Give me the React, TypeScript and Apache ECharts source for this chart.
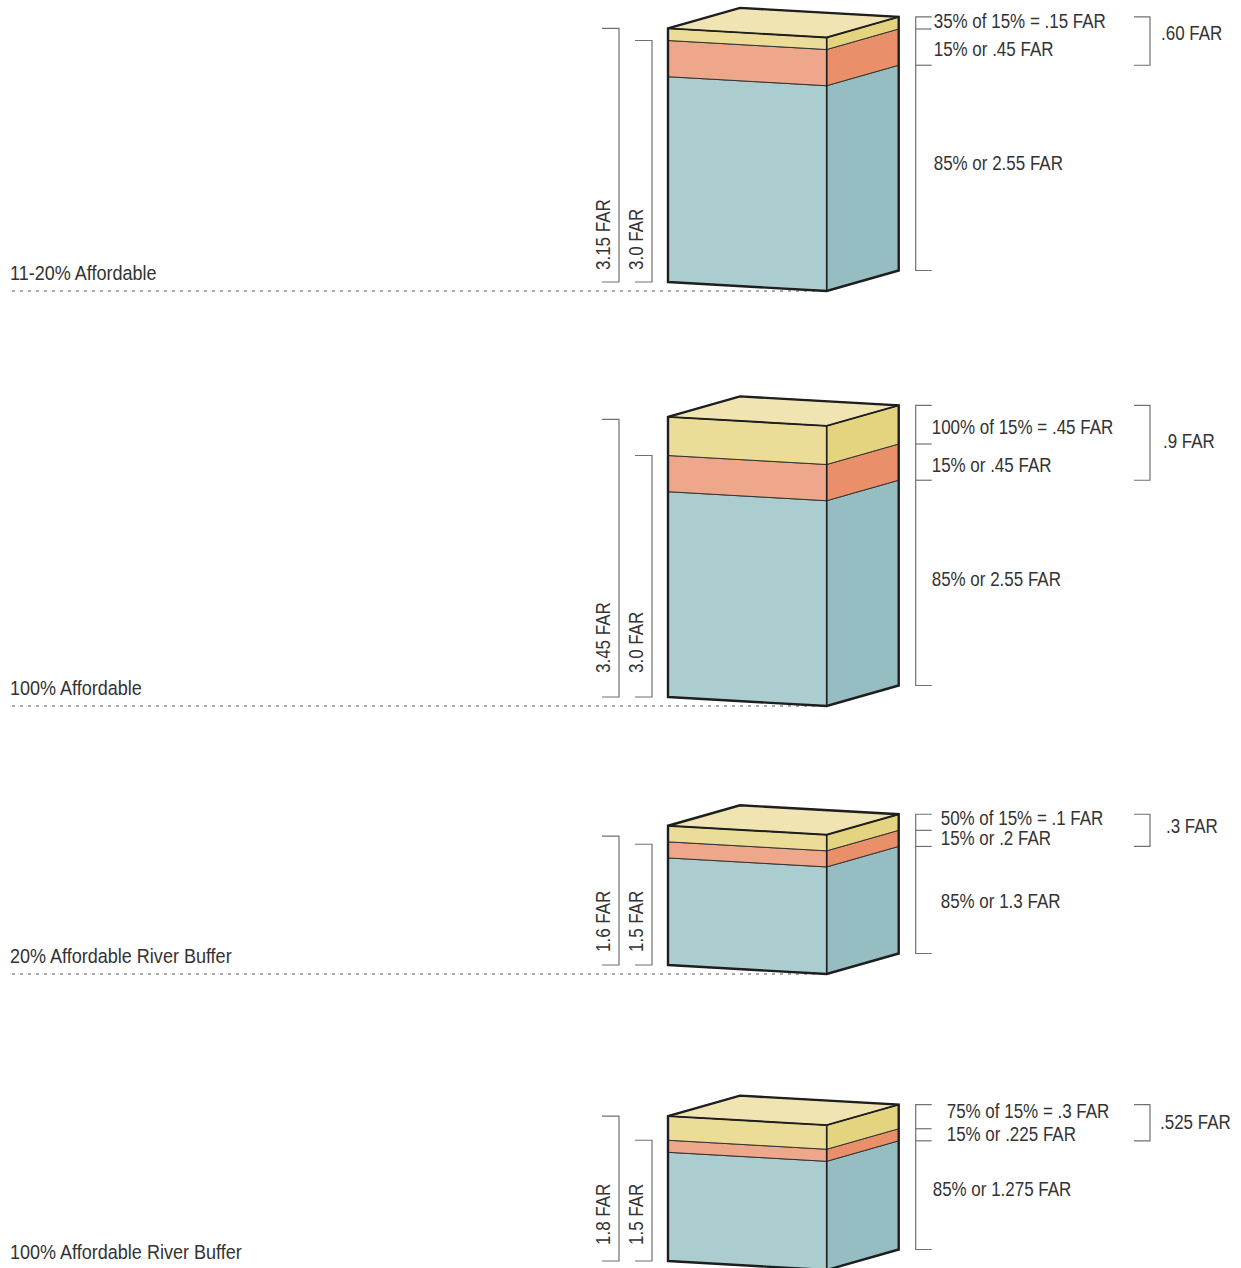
import React, { useEffect, useRef } from "react";
import * as echarts from "echarts";

// ---------- data ----------
const CATEGORIES = [
  "11-20% Affordable",
  "100% Affordable",
  "20% Affordable River Buffer",
  "100% Affordable River Buffer",
];
// drawn layer heights (FAR)
const BASE_FAR = [2.55, 2.55, 1.33, 1.35]; // 85% base (teal)
const BONUS_FAR = [0.45, 0.45, 0.2, 0.15]; // 15% bonus (orange)
const AFFORD_FAR = [0.15, 0.48, 0.2, 0.3]; // affordable bonus (yellow)
const TOTAL_FAR = [3.15, 3.45, 1.6, 1.8];
const BASE_TOTAL_FAR = [3.0, 3.0, 1.5, 1.5];

const TOTAL_LABELS = ["3.15 FAR", "3.45 FAR", "1.6 FAR", "1.8 FAR"];
const BASE_TOTAL_LABELS = ["3.0 FAR", "3.0 FAR", "1.5 FAR", "1.5 FAR"];
const AFFORD_LABELS = [
  "35% of 15% = .15 FAR",
  "100% of 15% = .45 FAR",
  "50% of 15% = .1 FAR",
  "75% of 15% = .3 FAR",
];
const BONUS_LABELS = ["15% or .45 FAR", "15% or .45 FAR", "15% or .2 FAR", "15% or .225 FAR"];
const BASE_LABELS = ["85% or 2.55 FAR", "85% or 2.55 FAR", "85% or 1.3 FAR", "85% or 1.275 FAR"];
const BONUS_SUM_LABELS = [".60 FAR", ".9 FAR", ".3 FAR", ".525 FAR"];

// ---------- layout ----------
const BASELINE_Y = [282, 697, 965, 1261];
const Y_MAX = 3.5;
const GRID_H = Y_MAX * 80.5;
const FRONT_LEFT = 668;
const FRONT_W = 158.7;
const SKEW = 9;
const DX = 72;
const DY = -20.5;
const LABEL_LIFT = [12, 24, 13, 16];
const TOP_LABEL_SHIFT = [0, -2, 7, 13];
const BASE_LABEL_SHIFT = [0, -2, 7, -1];
const AFFORD_DY = [-1, 3, -4, -5];
const BONUS_DY = [3, 4, 0, 0];
const BASE_DY = [-4, -3, 2, -6];
const SUM_DY = [-7, -1, -4, 0];
const SUM_DX = [11, 13, 16, 10];

const FONT = "'Liberation Sans', Arial, sans-serif";
const TEXT_COLOR = "#333";
const EDGE = "#1e1e1e";
const BRACKET = "#707070";

const FRONT_COLORS = ["#abcdd0", "#eea78a", "#ebdc98"];
const SIDE_COLORS = ["#96bec2", "#e98f69", "#e5d47f"];
const TOP_COLOR = "#f0e4b3";

const txt = (text: string, x: number, y: number, opts: any = {}) => ({
  type: "text",
  x,
  y,
  rotation: opts.rotation || 0,
  scaleX: 0.88,
  style: {
    text,
    fill: TEXT_COLOR,
    fontSize: opts.fontSize || 19.3,
    fontFamily: FONT,
    align: opts.align || "left",
    verticalAlign: "middle",
  },
});

const renderBox = (params: any, api: any) => {
  const i = params.seriesIndex;
  const teal = api.value(0);
  const orange = api.value(1);
  const yellow = api.value(2);
  const total = api.value(3);
  const baseTotal = api.value(4);
  const lv = [0, teal, teal + orange, teal + orange + yellow];
  const L = (v: number) => api.coord([0, v]);
  const R = (v: number) => {
    const p = api.coord([1, v]);
    return [p[0], p[1] + SKEW];
  };
  const B = (p: number[]) => [p[0] + DX, p[1] + DY];
  const children: any[] = [];
  const L0 = L(0);
  const R0 = R(0);

  // dotted ground line
  children.push({
    type: "line",
    shape: { x1: 12, y1: R0[1], x2: R0[0], y2: R0[1] },
    style: { stroke: "#555", lineWidth: 1, lineDash: [3, 5] },
  });
  // category label
  children.push(txt(CATEGORIES[i], 10, L0[1] - 9, { fontSize: 20.5 }));

  // layers
  for (let k = 0; k < 3; k++) {
    const a = lv[k];
    const b = lv[k + 1];
    children.push({
      type: "polygon",
      shape: { points: [L(a), R(a), R(b), L(b)] },
      style: { fill: FRONT_COLORS[k], stroke: "#333", lineWidth: 1 },
    });
    children.push({
      type: "polygon",
      shape: { points: [R(a), B(R(a)), B(R(b)), R(b)] },
      style: { fill: SIDE_COLORS[k], stroke: "#333", lineWidth: 1 },
    });
  }
  const Lt = L(lv[3]);
  const Rt = R(lv[3]);
  children.push({
    type: "polygon",
    shape: { points: [Lt, Rt, B(Rt), B(Lt)] },
    style: { fill: TOP_COLOR, stroke: EDGE, lineWidth: 1 },
  });
  // outline
  children.push({
    type: "polygon",
    shape: { points: [L0, R0, B(R0), B(Rt), B(Lt), Lt] },
    style: { fill: "none", stroke: EDGE, lineWidth: 2.4, lineJoin: "miter" },
  });
  children.push({
    type: "line",
    shape: { x1: R0[0], y1: R0[1], x2: Rt[0], y2: Rt[1] },
    style: { stroke: EDGE, lineWidth: 1.6 },
  });
  children.push({
    type: "polyline",
    shape: { points: [Lt, Rt, B(Rt)] },
    style: { fill: "none", stroke: EDGE, lineWidth: 1.9 },
  });

  // left brackets
  const yTot = L(total)[1];
  const yBase = L(baseTotal)[1];
  const xo = L0[0] - 49;
  const xi = L0[0] - 16;
  const bStyle = { fill: "none", stroke: BRACKET, lineWidth: 1.2 };
  children.push({
    type: "polyline",
    shape: { points: [[xo - 17, yTot], [xo, yTot], [xo, L0[1]], [xo - 17, L0[1]]] },
    style: bStyle,
  });
  children.push({
    type: "polyline",
    shape: { points: [[xi - 17, yBase], [xi, yBase], [xi, L0[1]], [xi - 17, L0[1]]] },
    style: bStyle,
  });
  children.push(
    txt(TOTAL_LABELS[i], L0[0] - 64.5, L0[1] - LABEL_LIFT[i], { rotation: Math.PI / 2 })
  );
  children.push(
    txt(BASE_TOTAL_LABELS[i], L0[0] - 31.5, L0[1] - LABEL_LIFT[i], { rotation: Math.PI / 2 })
  );

  // right brackets (aligned to the right face)
  const ys = lv.map((v) => B(R(v))[1]);
  const xr = B(R0)[0] + 17;
  children.push({
    type: "polyline",
    shape: { points: [[xr + 16, ys[3]], [xr, ys[3]], [xr, ys[0]], [xr + 16, ys[0]]] },
    style: bStyle,
  });
  [ys[1], ys[2]].forEach((y) =>
    children.push({
      type: "line",
      shape: { x1: xr, y1: y, x2: xr + 16, y2: y },
      style: { stroke: BRACKET, lineWidth: 1.2 },
    })
  );
  children.push(
    txt(AFFORD_LABELS[i], xr + 18 + TOP_LABEL_SHIFT[i], (ys[3] + ys[2]) / 2 + AFFORD_DY[i])
  );
  children.push(
    txt(BONUS_LABELS[i], xr + 18 + TOP_LABEL_SHIFT[i], (ys[2] + ys[1]) / 2 + BONUS_DY[i])
  );
  children.push(
    txt(BASE_LABELS[i], xr + 18 + BASE_LABEL_SHIFT[i], (ys[1] + ys[0]) / 2 + BASE_DY[i])
  );

  // outer bonus bracket
  const xb = L0[0] + 482;
  children.push({
    type: "polyline",
    shape: { points: [[xb - 16, ys[3]], [xb, ys[3]], [xb, ys[1]], [xb - 16, ys[1]]] },
    style: bStyle,
  });
  children.push(txt(BONUS_SUM_LABELS[i], xb + SUM_DX[i], (ys[3] + ys[1]) / 2 + SUM_DY[i]));

  return { type: "group", children };
};

const buildOption = () => ({
  animation: false,
  backgroundColor: "#ffffff",
  grid: BASELINE_Y.map((b) => ({
    left: FRONT_LEFT,
    width: FRONT_W,
    top: b - GRID_H,
    height: GRID_H,
    containLabel: false,
  })),
  xAxis: BASELINE_Y.map((_, i) => ({
    type: "value",
    gridIndex: i,
    min: 0,
    max: 1,
    show: false,
  })),
  yAxis: BASELINE_Y.map((_, i) => ({
    type: "value",
    gridIndex: i,
    min: 0,
    max: Y_MAX,
    show: false,
  })),
  series: CATEGORIES.map((name, i) => ({
    type: "custom",
    name,
    xAxisIndex: i,
    yAxisIndex: i,
    clip: false,
    silent: true,
    renderItem: renderBox,
    data: [[BASE_FAR[i], BONUS_FAR[i], AFFORD_FAR[i], TOTAL_FAR[i], BASE_TOTAL_FAR[i]]],
  })),
});

export default function App() {
  const ref = useRef<HTMLDivElement>(null);
  useEffect(() => {
    document.body.style.margin = "0";
    document.body.style.overflow = "hidden";
    const chart = echarts.init(ref.current as HTMLDivElement, null, { renderer: "svg" });
    chart.setOption(buildOption() as any);
    return () => chart.dispose();
  }, []);
  return (
    <div
      ref={ref}
      style={{ position: "absolute", left: 0, top: 0, width: 1241, height: 1268 }}
    />
  );
}
